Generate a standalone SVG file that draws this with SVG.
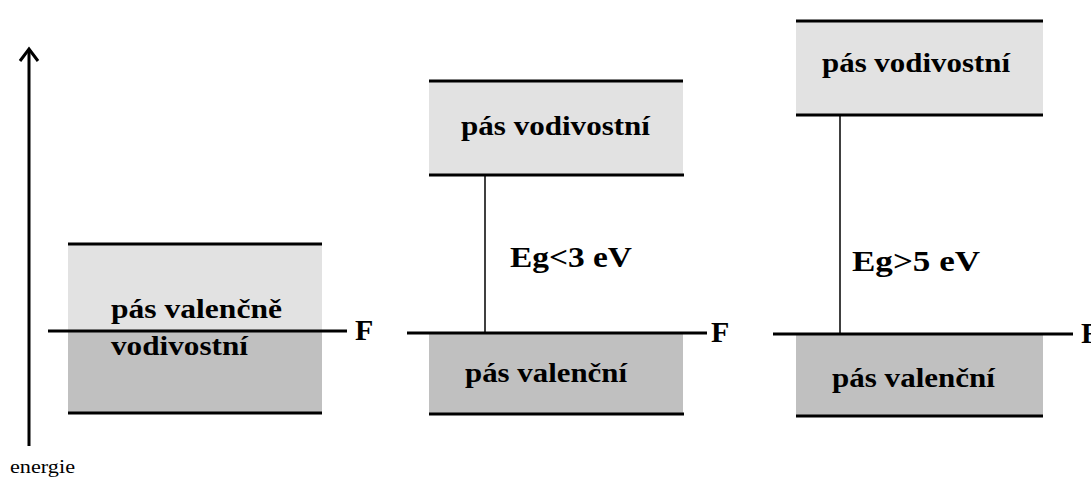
<svg xmlns="http://www.w3.org/2000/svg" width="1091" height="480" viewBox="0 0 1091 480">
<style>
.light{fill:#e2e2e2}
.dark{fill:#c0c0c0}
.edge{stroke:#000;stroke-width:3;fill:none}
.gap{stroke:#000;stroke-width:1.5;fill:none}
.lbl{font-family:"Liberation Serif","Times New Roman",serif;font-weight:bold;font-size:28px;fill:#000}
.eg{font-family:"Liberation Serif","Times New Roman",serif;font-weight:bold;font-size:30px;fill:#000}
.f{font-family:"Liberation Serif","Times New Roman",serif;font-weight:bold;font-size:30px;fill:#000}
.ax{font-family:"Liberation Serif","Times New Roman",serif;font-size:18px;fill:#000}
</style>
<rect width="1091" height="480" fill="#fff"/>
<g id="axis">
<line x1="29" y1="446" x2="29" y2="49" class="edge"/>
<polyline points="20,61 29,49 38,61" class="edge"/>
<text x="10" y="473" class="ax" textLength="65" lengthAdjust="spacingAndGlyphs">energie</text>
</g>
<g id="kov">
<rect x="68" y="244" width="254" height="87" class="light"/>
<rect x="68" y="331" width="254" height="82" class="dark"/>
<line x1="68" y1="244" x2="322" y2="244" class="edge"/>
<line x1="68" y1="413" x2="322" y2="413" class="edge"/>
<line x1="48" y1="331" x2="347" y2="331" class="edge"/>
<text x="111" y="318" class="lbl" textLength="171" lengthAdjust="spacingAndGlyphs">pás valenčně</text>
<text x="111" y="355" class="lbl" textLength="137" lengthAdjust="spacingAndGlyphs">vodivostní</text>
<text x="355" y="340" class="f">F</text>
</g>
<g id="polovodic">
<rect x="429" y="81" width="254" height="94" class="light"/>
<rect x="429" y="333" width="254" height="81" class="dark"/>
<line x1="429" y1="81" x2="683" y2="81" class="edge"/>
<line x1="429" y1="175" x2="684" y2="175" class="edge"/>
<line x1="429" y1="414" x2="684" y2="414" class="edge"/>
<text x="461" y="135" class="lbl" textLength="189" lengthAdjust="spacingAndGlyphs">pás vodivostní</text>
<text x="510" y="267" class="eg" textLength="122" lengthAdjust="spacingAndGlyphs">Eg&lt;3 eV</text>
<text x="465" y="382" class="lbl" textLength="162" lengthAdjust="spacingAndGlyphs">pás valenční</text>
<text x="711" y="342" class="f">F</text>
</g>
<g id="izolant">
<rect x="796" y="21" width="247" height="94" class="light"/>
<rect x="796" y="334" width="247" height="82" class="dark"/>
<line x1="796" y1="21" x2="1043" y2="21" class="edge"/>
<line x1="796" y1="115" x2="1043" y2="115" class="edge"/>
<line x1="796" y1="416" x2="1043" y2="416" class="edge"/>
<text x="822" y="72" class="lbl" textLength="188" lengthAdjust="spacingAndGlyphs">pás vodivostní</text>
<text x="852" y="271" class="eg" textLength="128" lengthAdjust="spacingAndGlyphs">Eg&gt;5 eV</text>
<text x="832" y="387" class="lbl" textLength="163" lengthAdjust="spacingAndGlyphs">pás valenční</text>
<text x="1081" y="343" class="f">F</text>
</g>
<g id="connectors">
<line x1="485" y1="175" x2="485" y2="333" class="gap"/>
<line x1="407" y1="333" x2="707" y2="333" class="edge"/>
<line x1="840" y1="115" x2="840" y2="334" class="gap"/>
<line x1="773" y1="334" x2="1073" y2="334" class="edge"/>
</g>
</svg>
